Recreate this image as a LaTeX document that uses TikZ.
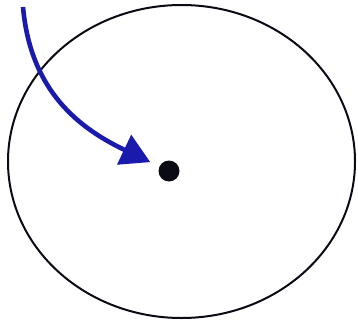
\documentclass[tikz,border=0pt]{standalone}
\usepackage{tikz}
\usetikzlibrary{arrows.meta}
\definecolor{ink}{HTML}{0B0B16}
\definecolor{path}{HTML}{1A1AAC}
\tikzset{
  rim/.style={draw=ink,line width=2pt},
  spot/.style={circle,fill=ink,inner sep=0pt,minimum size=21pt},
  move/.style={-{Triangle[length=29pt,width=32pt]},draw=path,
    line width=4.6pt,shorten >=10pt}
}
\begin{document}
\begin{tikzpicture}[x=1pt,y=-1pt]
    \useasboundingbox (0,0) rectangle (358,321);
    \draw[rim] (181.5,161.5) ellipse [x radius=173.5,y radius=156.5];
    \node[spot] (dot) at (169,171) {};
    \coordinate (start) at (23,7);
    \draw[move] (start) .. controls (30,85) and (72,125) .. (dot);
  \end{tikzpicture}
\end{document}
